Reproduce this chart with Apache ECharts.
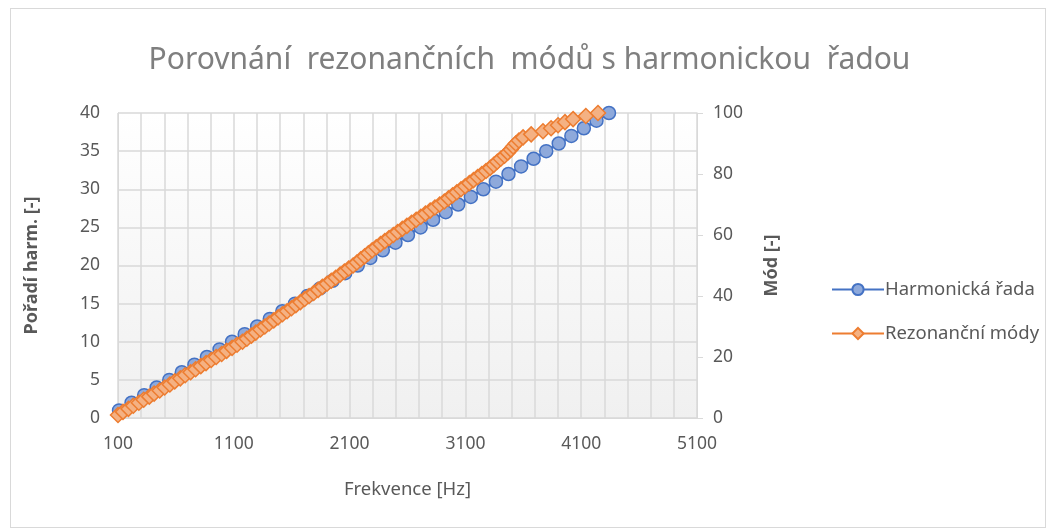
<!DOCTYPE html>
<html>
<head>
<meta charset="utf-8">
<script src="https://cdn.jsdelivr.net/npm/echarts@6/dist/echarts.min.js"></script>
<style>
  html, body { margin: 0; padding: 0; background: #fff; }
  #frame { position: absolute; left: 10px; top: 8px; width: 1034px; height: 518px; border: 1px solid #d9d9d9; }
  #chart { position: absolute; left: 0; top: 0; width: 1059px; height: 529px; }
</style>
</head>
<body>
<div id="frame"></div>
<div id="chart"></div>
<script>
  // harmonická řada: frekvence [Hz] a pořadí
  const HARM_FREQ = [
    109, 217, 326, 434, 543, 651, 760, 868, 977, 1085,
    1194, 1302, 1411, 1519, 1628, 1736, 1845, 1953, 2062, 2170,
    2279, 2387, 2496, 2604, 2713, 2821, 2930, 3038, 3147, 3255,
    3364, 3472, 3581, 3689, 3798, 3906, 4015, 4123, 4232, 4340
  ]
  const HARM_ORDER = [
    1, 2, 3, 4, 5, 6, 7, 8, 9, 10,
    11, 12, 13, 14, 15, 16, 17, 18, 19, 20,
    21, 22, 23, 24, 25, 26, 27, 28, 29, 30,
    31, 32, 33, 34, 35, 36, 37, 38, 39, 40
  ]

  // rezonanční módy: frekvence [Hz] pro mód 1..100
  const MODE_FREQ = [
    100, 143, 190, 232, 280, 322, 370, 412, 460, 503,
    548, 590, 638, 680, 727, 770, 815, 860, 905, 948,
    995, 1038, 1085, 1128, 1175, 1213, 1252, 1290, 1330, 1368,
    1405, 1445, 1482, 1520, 1560, 1598, 1636, 1675, 1712, 1750,
    1790, 1828, 1865, 1905, 1942, 1980, 2018, 2055, 2092, 2130,
    2163, 2196, 2230, 2262, 2295, 2330, 2367, 2404, 2441, 2478,
    2515, 2555, 2595, 2635, 2675, 2715, 2755, 2796, 2837, 2878,
    2918, 2954, 2990, 3026, 3062, 3098, 3134, 3170, 3206, 3242,
    3278, 3314, 3345, 3375, 3405, 3438, 3465, 3492, 3512, 3535,
    3562, 3598, 3668, 3770, 3840, 3900, 3960, 4030, 4140, 4245
  ]
  const MODE_NUM = [
    1, 2, 3, 4, 5, 6, 7, 8, 9, 10,
    11, 12, 13, 14, 15, 16, 17, 18, 19, 20,
    21, 22, 23, 24, 25, 26, 27, 28, 29, 30,
    31, 32, 33, 34, 35, 36, 37, 38, 39, 40,
    41, 42, 43, 44, 45, 46, 47, 48, 49, 50,
    51, 52, 53, 54, 55, 56, 57, 58, 59, 60,
    61, 62, 63, 64, 65, 66, 67, 68, 69, 70,
    71, 72, 73, 74, 75, 76, 77, 78, 79, 80,
    81, 82, 83, 84, 85, 86, 87, 88, 89, 90,
    91, 92, 93, 94, 95, 96, 97, 98, 99, 100
  ]

  const FONT = '"Noto Sans", sans-serif'
  const TXT = '#595959'
  const GRID_LINE = '#d9d9d9'

  const harmData = HARM_FREQ.map((f, i) => [f, HARM_ORDER[i]])
  const modeData = MODE_FREQ.map((f, i) => [f, MODE_NUM[i]])

  const options = {
    backgroundColor: 'transparent',
    animation: false,
    textStyle: { fontFamily: FONT },
    title: {
      text: 'Porovnání  rezonančních  módů s harmonickou  řadou',
      left: 'center',
      top: 40,
      textStyle: {
        fontFamily: FONT,
        fontSize: 30,
        fontWeight: 'normal',
        color: '#7f7f7f'
      }
    },
    legend: {
      orient: 'vertical',
      left: 826,
      top: 275,
      itemGap: 25,
      itemWidth: 52,
      itemHeight: 14,
      textStyle: { color: TXT, fontSize: 18.5, fontFamily: FONT, padding: [0, 0, 0, -4] },
      data: ['Harmonická řada', 'Rezonanční módy']
    },
    grid: {
      left: 118,
      right: 362,
      top: 113,
      bottom: 111,
      show: true,
      borderWidth: 0,
      backgroundColor: new echarts.graphic.LinearGradient(0, 0, 0, 1, [
        { offset: 0, color: '#ffffff' },
        { offset: 1, color: '#f0f0f0' }
      ])
    },
    xAxis: {
      type: 'value',
      min: 100,
      max: 5100,
      interval: 1000,
      name: 'Frekvence [Hz]',
      nameLocation: 'middle',
      nameGap: 62,
      nameTextStyle: { color: TXT, fontSize: 18.5, fontFamily: FONT },
      axisLine: { show: true, lineStyle: { color: GRID_LINE, width: 1 } },
      axisTick: { show: false },
      axisLabel: { color: TXT, fontSize: 17.5, margin: 17, fontFamily: FONT, formatter: (v) => String(v) },
      splitLine: { show: true, lineStyle: { color: GRID_LINE, width: 1.5 } },
      minorTick: { show: false, splitNumber: 5 },
      minorSplitLine: { show: true, lineStyle: { color: GRID_LINE, width: 1.5 } }
    },
    yAxis: [
      {
        type: 'value',
        min: 0,
        max: 40,
        interval: 5,
        name: 'Pořadí harm. [-]',
        nameLocation: 'middle',
        nameRotate: 90,
        nameGap: 77,
        nameTextStyle: { color: TXT, fontSize: 18, fontWeight: 'bold', fontFamily: FONT },
        axisLine: { show: true, lineStyle: { color: GRID_LINE, width: 1 } },
        axisTick: { show: false },
        axisLabel: { color: TXT, fontSize: 17.5, margin: 18, fontFamily: FONT },
        splitLine: { show: true, lineStyle: { color: GRID_LINE, width: 1.5 } }
      },
      {
        type: 'value',
        min: 0,
        max: 100,
        interval: 20,
        name: 'Mód [-]',
        nameLocation: 'middle',
        nameRotate: 90,
        nameGap: 66,
        nameTextStyle: { color: TXT, fontSize: 18, fontWeight: 'bold', fontFamily: FONT },
        axisLine: { show: true, lineStyle: { color: GRID_LINE, width: 1 } },
        axisTick: { show: true, inside: false, length: 6, lineStyle: { color: GRID_LINE } },
        axisLabel: { color: TXT, fontSize: 17.5, margin: 16, fontFamily: FONT },
        splitLine: { show: false }
      }
    ],
    series: [
      {
        name: 'Harmonická řada',
        type: 'line',
        yAxisIndex: 0,
        data: harmData,
        symbol: 'circle',
        symbolSize: 13,
        lineStyle: { color: '#4472c4', width: 2.5 },
        itemStyle: { color: '#8ea9db', borderColor: '#4472c4', borderWidth: 1.5 },
        z: 2
      },
      {
        name: 'Rezonanční módy',
        type: 'line',
        yAxisIndex: 1,
        data: modeData,
        symbol: 'diamond',
        symbolSize: 15,
        lineStyle: { color: '#ed7d31', width: 2.5 },
        itemStyle: { color: '#f4b183', borderColor: '#ed7d31', borderWidth: 1.5 },
        z: 3
      }
    ]
  }

  const chart = echarts.init(document.getElementById('chart'), null, { renderer: 'canvas' })
  chart.setOption(options)
</script>
</body>
</html>
